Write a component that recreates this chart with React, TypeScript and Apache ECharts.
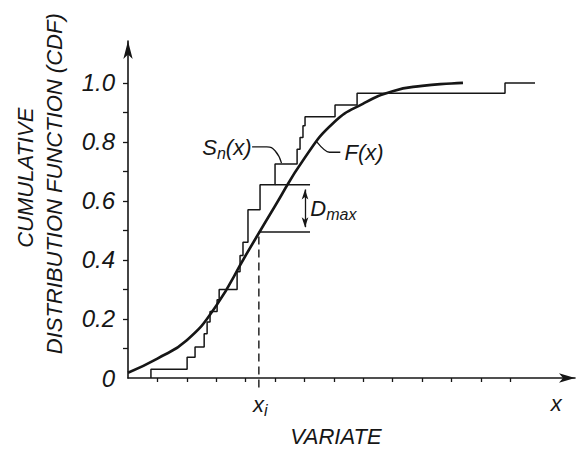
import React, { useEffect, useRef } from "react";
import * as echarts from "echarts";

// Empirical CDF S_n(x): each level is held up to the matching x (step: 'start')
const stepX = [0.78, 2.01, 2.28, 2.59, 2.69, 2.79, 3.03, 3.1, 3.71, 3.81, 3.91, 4.08, 4.49, 5.0, 5.75, 5.85, 5.95, 6.02, 7.04, 7.79, 12.82, 13.84];
const stepLevel = [0, 0.03, 0.07, 0.105, 0.15, 0.19, 0.225, 0.265, 0.3, 0.36, 0.415, 0.46, 0.57, 0.655, 0.725, 0.775, 0.815, 0.855, 0.885, 0.925, 0.965, 1.0];

// Theoretical CDF F(x)
const curveX = [0, 1, 2, 3, 4, 5, 6, 7, 8, 9, 10, 11, 11.39];
const curveY = [0.018, 0.066, 0.128, 0.245, 0.415, 0.583, 0.745, 0.866, 0.93, 0.972, 0.99, 0.998, 1.0];

// Axis ticks / labels
const yTickValues = [0.1, 0.2, 0.3, 0.4, 0.5, 0.6, 0.7, 0.8, 0.9, 1.0];
const yLabelValues = [0, 0.2, 0.4, 0.6, 0.8, 1.0];
const xTickValues = [1, 2, 3, 4, 5, 6, 7, 8, 9, 10, 11, 12, 13];

// D_max construction
const xi = 4.45;
const fAtXi = 0.495;
const snAtXi = 0.655;
const dmaxArrowX = 6.02;
const dmaxBarEnd = 6.19;
const dmaxTopStart = 5.0;

// leader lines
const snLeaderX = [4.22, 4.72, 5.0, 5.22];
const snLeaderY = [0.783, 0.783, 0.77, 0.728];
const fLeaderX = [6.42, 6.85, 7.22];
const fLeaderY = [0.8, 0.765, 0.765];

const FONT = "'Liberation Sans', Arial, sans-serif";
const INK = "#161616";

export default function App() {
  const ref = useRef<HTMLDivElement>(null);
  useEffect(() => {
    if (!ref.current) return;
    const chart = echarts.init(ref.current, undefined, { renderer: "svg" });
    const zip = (xs: number[], ys: number[]) => xs.map((x, i) => [x, ys[i]]);
    const lineBase = {
      type: "line",
      symbol: "none",
      silent: true,
      animation: false,
      emphasis: { disabled: true },
    };
    const arrowPad = 0.016;
    chart.setOption({
      animation: false,
      grid: { left: 128, right: 11, top: 41, bottom: 72 },
      xAxis: {
        type: "value",
        min: 0,
        max: 15.2,
        splitLine: { show: false },
        axisLine: {
          show: true,
          symbol: ["none", "arrow"],
          symbolSize: [7, 16],
          lineStyle: { color: INK, width: 1.6 },
        },
        axisTick: { show: true, customValues: xTickValues, length: 4, lineStyle: { color: INK, width: 1.3 } },
        axisLabel: { show: false },
      },
      yAxis: {
        type: "value",
        min: 0,
        max: 1.142,
        splitLine: { show: false },
        axisLine: {
          show: true,
          symbol: ["none", "arrow"],
          symbolSize: [7, 18],
          lineStyle: { color: INK, width: 1.6 },
        },
        axisTick: { show: true, customValues: yTickValues, length: 5, lineStyle: { color: INK, width: 1.3 } },
        axisLabel: {
          customValues: yLabelValues,
          formatter: (v: number) => (v === 0 ? "0" : v.toFixed(1)),
          fontSize: 24,
          fontStyle: "italic",
          fontFamily: FONT,
          color: INK,
          margin: 13,
        },
      },
      series: [
        {
          ...lineBase,
          name: "F(x)",
          data: zip(curveX, curveY),
          smooth: 0.5,
          lineStyle: { color: INK, width: 2.6 },
        },
        {
          ...lineBase,
          name: "Sn(x)",
          step: "start",
          data: zip(stepX, stepLevel),
          lineStyle: { color: INK, width: 1.5 },
        },
        {
          ...lineBase,
          name: "xi",
          clip: false,
          data: [[xi, -0.032], [xi, fAtXi]],
          lineStyle: { color: INK, width: 1.4, type: [8, 5] },
        },
        {
          ...lineBase,
          name: "dmax-low",
          data: [[xi, fAtXi], [dmaxBarEnd, fAtXi]],
          lineStyle: { color: INK, width: 1.4 },
          markLine: {
            silent: true,
            symbol: ["arrow", "arrow"],
            symbolSize: [5, 10],
            label: { show: false },
            lineStyle: { color: INK, width: 1.3, type: "solid" },
            data: [[{ coord: [dmaxArrowX, fAtXi + arrowPad] }, { coord: [dmaxArrowX, snAtXi - arrowPad] }]],
          },
        },
        {
          ...lineBase,
          name: "dmax-high",
          data: [[dmaxTopStart, snAtXi], [dmaxBarEnd, snAtXi]],
          lineStyle: { color: INK, width: 1.4 },
        },
        {
          ...lineBase,
          name: "sn-leader",
          smooth: 0.5,
          data: zip(snLeaderX, snLeaderY),
          lineStyle: { color: INK, width: 1.3 },
        },
        {
          ...lineBase,
          name: "f-leader",
          smooth: 0.3,
          data: zip(fLeaderX, fLeaderY),
          lineStyle: { color: INK, width: 1.3 },
        },
      ],
    });

    const px = (x: number, y: number) => chart.convertToPixel({ gridIndex: 0 }, [x, y]) as number[];
    const base = { fill: INK, fontFamily: FONT, fontStyle: "italic", fontSize: 22 };
    const rich = {
      m: { fontFamily: FONT, fontStyle: "italic", fontSize: 22, color: INK },
      s: { fontFamily: FONT, fontStyle: "italic", fontSize: 16, color: INK, padding: [12, 0, 0, 0] },
    };
    const snP = px(4.2, 0.782);
    const fP = px(7.36, 0.763);
    const dP = px(6.2, 0.575);
    const xiP = px(xi + 0.05, -0.09);
    const xP = px(14.56, -0.088);
    const varP = px(7.07, -0.197);
    const titleY = px(0, 0.665)[1];

    chart.setOption({
      graphic: [
        { type: "text", x: snP[0], y: snP[1], silent: true, style: { ...base, text: "{m|S}{s|n}{m|(x)}", rich, align: "right", verticalAlign: "middle" } },
        { type: "text", x: fP[0], y: fP[1], silent: true, style: { ...base, text: "F(x)", align: "left", verticalAlign: "middle" } },
        { type: "text", x: dP[0], y: dP[1], silent: true, style: { ...base, text: "{m|D}{s|max}", rich, align: "left", verticalAlign: "middle" } },
        { type: "text", x: xiP[0], y: xiP[1], silent: true, style: { ...base, text: "{m|x}{s|i}", rich, align: "center", verticalAlign: "middle" } },
        { type: "text", x: xP[0], y: xP[1], silent: true, style: { ...base, text: "x", align: "center", verticalAlign: "middle" } },
        { type: "text", x: varP[0], y: varP[1], silent: true, style: { ...base, text: "VARIATE", align: "center", verticalAlign: "middle" } },
        { type: "text", x: 25, y: titleY - 4, rotation: Math.PI / 2, silent: true, style: { ...base, text: "CUMULATIVE", align: "center", verticalAlign: "middle" } },
        { type: "text", x: 54, y: titleY + 2, rotation: Math.PI / 2, silent: true, style: { ...base, text: "DISTRIBUTION FUNCTION (CDF)", align: "center", verticalAlign: "middle" } },
      ],
    });
    return () => chart.dispose();
  }, []);
  return <div ref={ref} style={{ width: 586, height: 450, position: "absolute", left: 0, top: 0, background: "#fff" }} />;
}
